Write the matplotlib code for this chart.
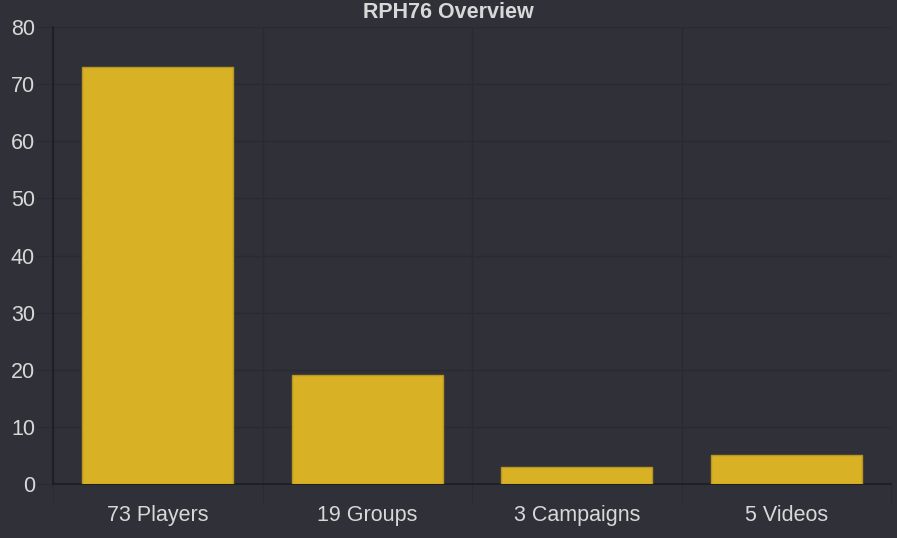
import matplotlib
matplotlib.use("Agg")
import matplotlib.pyplot as plt
from matplotlib.ticker import MultipleLocator, FixedLocator

categories = ["73 Players", "19 Groups", "3 Campaigns", "5 Videos"]
values = [73, 19, 3, 5]
title = "RPH76 Overview"

bg = "#303038"
grid_c = "#2a2a31"
axis_c = "#1d1d21"
text_c = "#d8d8d8"
bar_c = "#d9b125"
edge_c = "#b89620"

plt.rcParams['font.family'] = ['Liberation Sans', 'DejaVu Sans']

W, H = 897, 538
fig = plt.figure(figsize=(W/100, H/100), dpi=100, facecolor=bg)
ax = fig.add_axes([53/W, 1-484/H, (891-53)/W, (484-27)/H], facecolor=bg)

x = list(range(len(categories)))
ax.bar(x, values, width=0.72, color=bar_c, edgecolor=edge_c, linewidth=1, zorder=3)

ax.set_xlim(-0.5, len(categories)-0.5)
ax.set_ylim(0, 80)
ax.yaxis.set_major_locator(MultipleLocator(10))
ax.set_xticks(x)
ax.set_xticklabels(categories)
ax.xaxis.set_minor_locator(FixedLocator([i-0.5 for i in range(len(categories)+1)]))

ax.grid(axis='y', which='major', color=grid_c, linewidth=1, zorder=0)
ax.grid(axis='x', which='minor', color=grid_c, linewidth=1, zorder=0)
ax.grid(axis='x', which='major', visible=False)

for s in ['top', 'right']:
    ax.spines[s].set_visible(False)
ax.spines['left'].set_color(axis_c)
ax.spines['bottom'].set_color(axis_c)
ax.spines['left'].set_linewidth(1.2)
ax.spines['bottom'].set_linewidth(1.2)

ax.tick_params(axis='y', which='major', length=12, color=grid_c, labelsize=15.5, labelcolor=text_c, pad=1)
ax.tick_params(axis='x', which='major', length=0, labelsize=15.5, labelcolor=text_c, pad=15)
ax.tick_params(axis='x', which='minor', length=15, color=grid_c)

fig.text(0.5, 1-13/H, title, ha='center', va='center', fontsize=15.5, fontweight='bold', color=text_c)

fig.savefig("out.png", dpi=100, facecolor=bg)
